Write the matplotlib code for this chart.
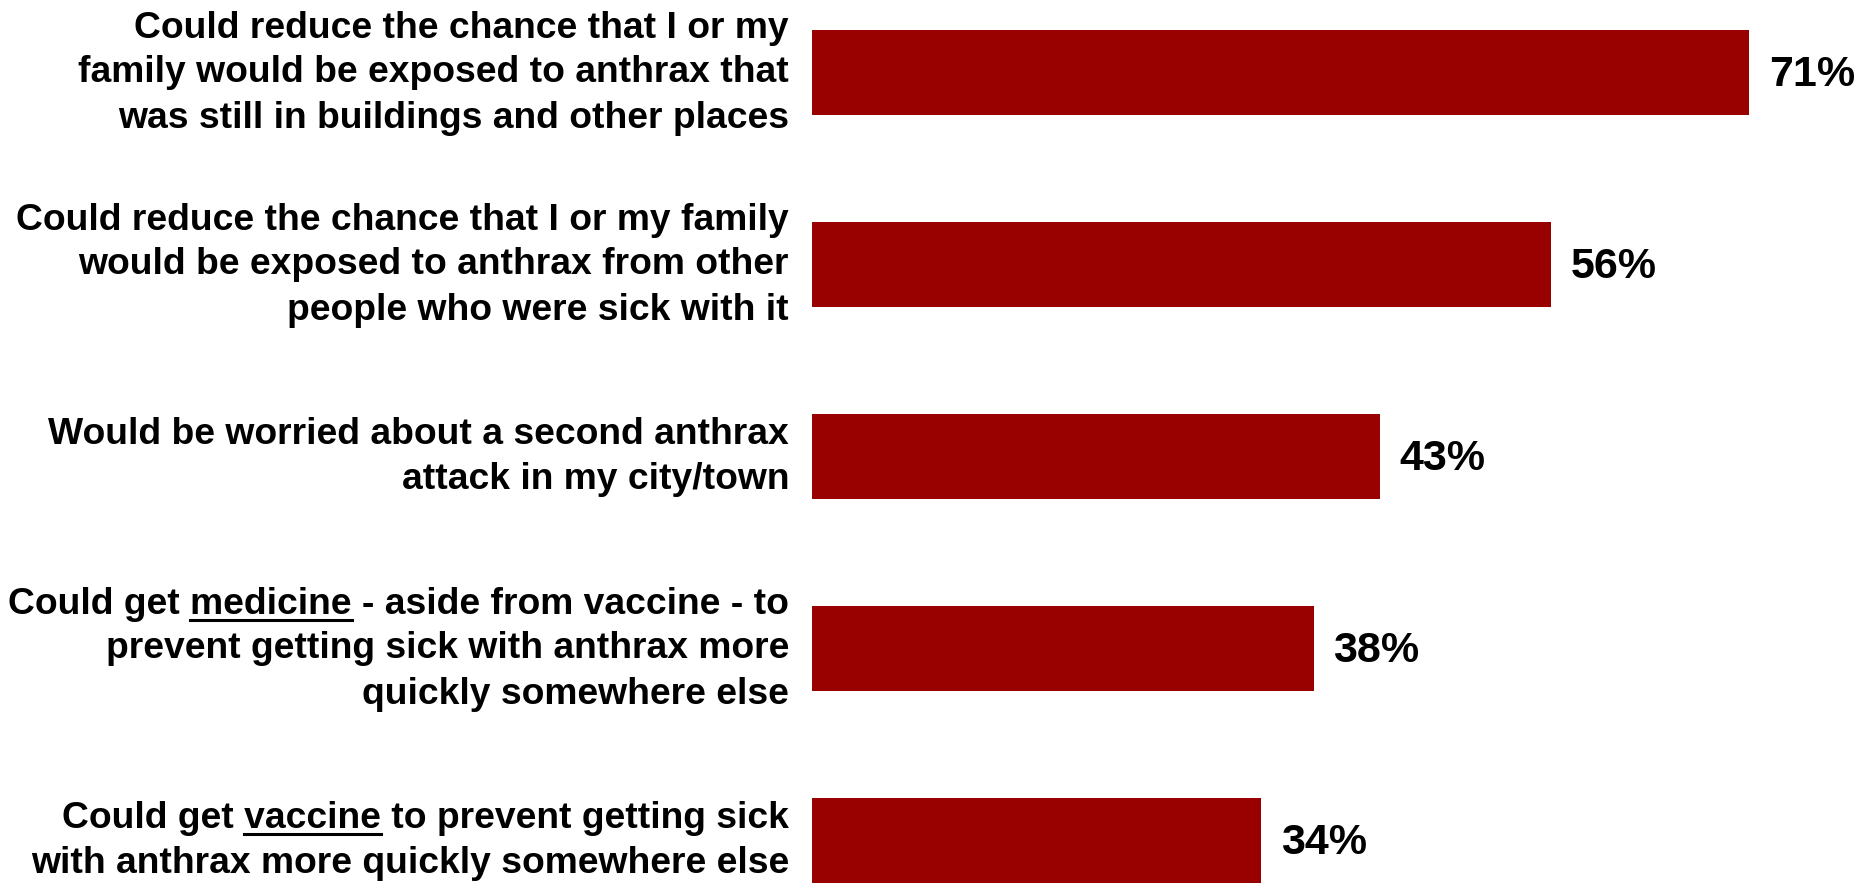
import matplotlib
matplotlib.use("Agg")
import matplotlib.pyplot as plt

plt.rcParams['font.family'] = ['Liberation Sans', 'DejaVu Sans']

# data, top to bottom
labels = [
    "Could reduce the chance that I or my\nfamily would be exposed to anthrax that\nwas still in buildings and other places",
    "Could reduce the chance that I or my family\nwould be exposed to anthrax from other\npeople who were sick with it",
    "Would be worried about a second anthrax\nattack in my city/town",
    "Could get medicine - aside from vaccine - to\nprevent getting sick with anthrax more\nquickly somewhere else",
    "Could get vaccine to prevent getting sick\nwith anthrax more quickly somewhere else",
]
underlined = [None, None, None, "medicine", "vaccine"]
values = [71, 56, 43, 38, 34]

bar_color = '#990000'
W, H, DPI = 1864, 883, 100
fig = plt.figure(figsize=(W / DPI, H / DPI), dpi=DPI)

x0 = 812          # pixel of value 0
px_per_unit = 13.2
step = 192.0      # pixel distance between bars
top_c = 72.5      # pixel center of first bar from top

ax = fig.add_axes([x0 / W, 0, (W - x0) / W, 1])
ax.set_xlim(0, (W - x0) / px_per_unit)
ax.set_ylim((H - top_c) / step, -top_c / step)
ax.axis('off')

ypos = list(range(len(values)))
ax.barh(ypos, values, height=0.446, color=bar_color)

for y, v in zip(ypos, values):
    ax.text(v + 1.5, y + 0.015, f"{v}%", ha='left', va='center',
            fontsize=31, fontweight='bold', color='black')

label_fs = 26.8
line_gap = 45.0    # pixels between lines
label_right = 789  # pixel right edge of labels

fig.canvas.draw()
renderer = fig.canvas.get_renderer()

def text_width(s):
    t = fig.text(0, 0, s, fontsize=label_fs, fontweight='bold')
    w = t.get_window_extent(renderer).width
    t.remove()
    return w

for i, lab in enumerate(labels):
    lines = lab.split("\n")
    n = len(lines)
    yc_px = H - (top_c + i * step)   # from bottom
    for k, line in enumerate(lines):
        yl = yc_px + ((n - 1) / 2 - k) * line_gap - 10  # baseline
        fig.text(label_right / W, yl / H, line, ha='right', va='baseline',
                 fontsize=label_fs, fontweight='bold', color='black')
        word = underlined[i]
        if word and word in line:
            full = text_width(line)
            pre = text_width(line[:line.index(word)])
            ww = text_width(word)
            xs = label_right - full + pre
            yu = yl - 6
            fig.add_artist(plt.Line2D([xs / W, (xs + ww) / W], [yu / H, yu / H],
                                      transform=fig.transFigure, color='black', lw=2.2))

fig.savefig('out.png', dpi=DPI)
